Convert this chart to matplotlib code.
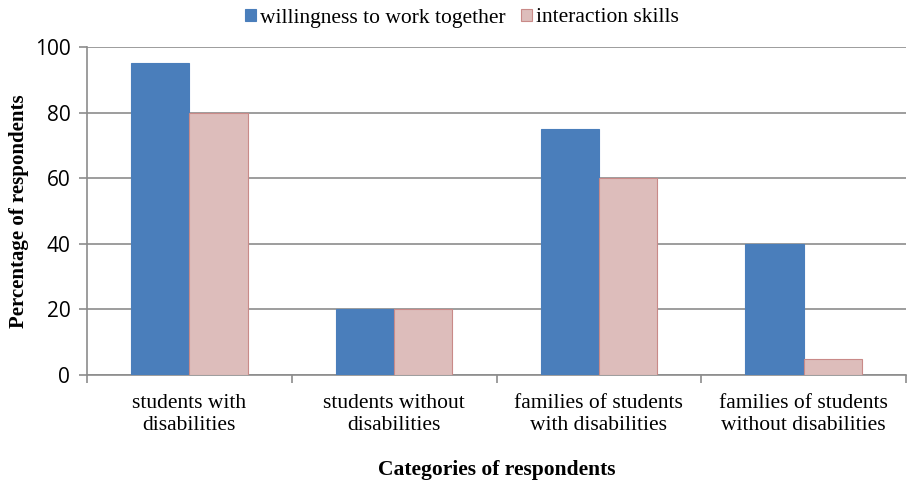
import matplotlib
matplotlib.use("Agg")
import matplotlib.pyplot as plt
import numpy as np

categories = ["students with\ndisabilities", "students without\ndisabilities",
              "families of students\nwith disabilities", "families of students\nwithout disabilities"]
willingness = [95, 20, 75, 40]
interaction = [80, 20, 60, 5]
series_names = ["willingness to work together", "interaction skills"]
yticks = [0, 20, 40, 60, 80, 100]

fig = plt.figure(figsize=(9.09, 4.82), dpi=100)
ax = fig.add_axes([87/909, 1-375/482, (906-87)/909, (375-47)/482])

x = np.arange(len(categories))
w = 0.285
serif = "Liberation Serif"
sans = "Open Sans"

ax.bar(x - w/2, willingness, w, color="#4A7EBB", edgecolor="#4A7EBB", linewidth=0.8,
       label=series_names[0], zorder=3)
ax.bar(x + w/2, interaction, w, color="#DDBDBB", edgecolor="#C98A88", linewidth=0.8,
       label=series_names[1], zorder=3)

ax.set_xlim(-0.5, len(categories) - 0.5)
ax.set_ylim(0, 100)
ax.set_yticks(yticks)
ax.set_yticklabels([str(v) for v in yticks], fontfamily=sans, fontsize=15)
ax.grid(axis="y", color="#8C8C8C", linewidth=1.2, zorder=0)
ax.tick_params(axis="y", length=6, color="#8C8C8C", width=1.2, pad=6)

ax.set_xticks(x)
ax.set_xticklabels(categories, fontfamily=serif, fontsize=15.5, linespacing=1.15)
ax.tick_params(axis="x", length=0, pad=14)
ax.set_xticks(np.arange(len(categories) + 1) - 0.5, minor=True)
ax.tick_params(axis="x", which="minor", length=6, color="#8C8C8C", width=1.2)

for s in ["top", "right"]:
    ax.spines[s].set_visible(False)
for s in ["left", "bottom"]:
    ax.spines[s].set_color("#8C8C8C")
    ax.spines[s].set_linewidth(1.2)

ax.set_ylabel("Percentage of respondents", fontfamily=serif, fontsize=15, fontweight="bold", labelpad=4)
ax.set_xlabel("Categories of respondents", fontfamily=serif, fontsize=15.5, fontweight="bold", labelpad=18)

leg = fig.legend(loc="center", bbox_to_anchor=(462/909, 1-18/482), ncol=2, frameon=False,
                 prop={"family": serif, "size": 15.5}, handlelength=0.5, handleheight=0.5,
                 handletextpad=0.2, columnspacing=0.7)

fig.savefig("out.png", dpi=100)
